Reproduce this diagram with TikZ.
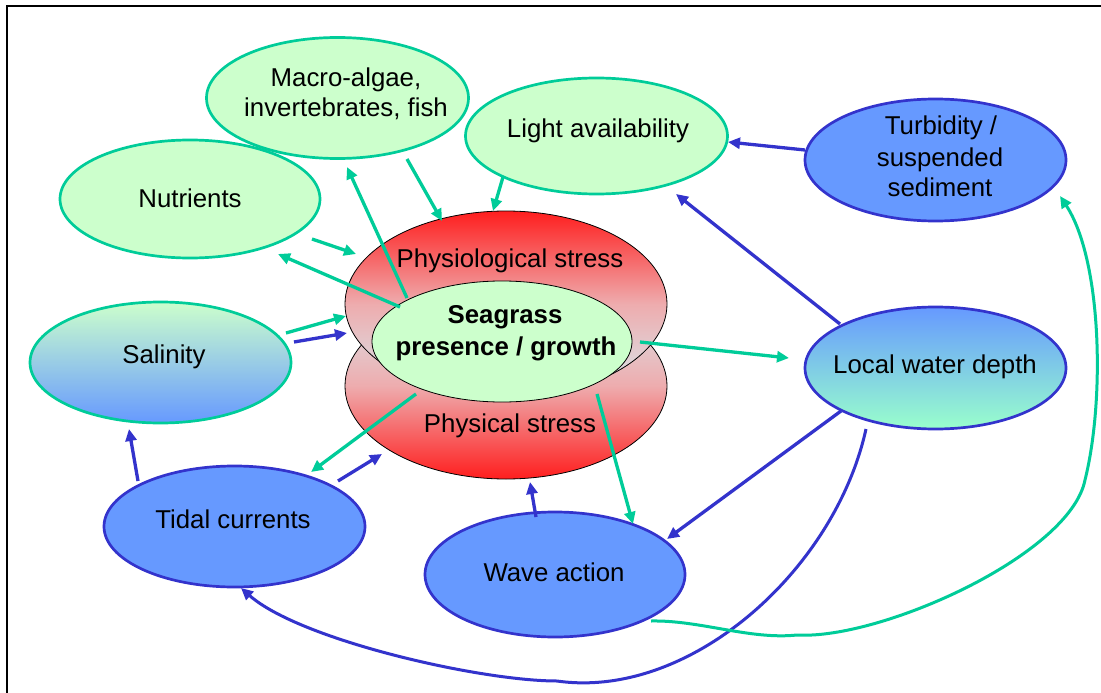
\documentclass[tikz,border=0pt]{standalone}
\usepackage{fontspec}
\setmainfont{Liberation Sans}
\usetikzlibrary{shapes.geometric,arrows.meta}

\definecolor{leafgreen}{HTML}{00CC99}
\definecolor{deepblue}{HTML}{3333CC}
\definecolor{palegreen}{HTML}{CCFFCC}
\definecolor{seablue}{HTML}{6699FF}
\definecolor{aqua}{HTML}{99FFCC}
\definecolor{hotred}{RGB}{255,30,30}
\definecolor{pinkmid}{RGB}{238,172,174}
\definecolor{mist}{RGB}{214,234,240}

\tikzset{
  oval/.style={ellipse, inner sep=0pt, line width=2.7pt},
  greenoval/.style={oval, draw=leafgreen, fill=palegreen},
  blueoval/.style={oval, draw=deepblue, fill=seablue},
  stressoval/.style={ellipse, inner sep=0pt, draw=black, line width=0.8pt,
    minimum width=322pt, minimum height=186pt},
  lbl/.style={anchor=base, inner sep=0pt, font=\fontsize{25.8pt}{31pt}\selectfont},
  boldlbl/.style={lbl, font=\fontsize{25.8pt}{31pt}\selectfont\bfseries},
  tip/.style={-{Triangle[length=12pt,width=11pt]}},
  garrow/.style={draw=leafgreen, line width=3.3pt, tip},
  barrow/.style={draw=deepblue, line width=3.3pt, tip},
}

\begin{document}
\begin{tikzpicture}[x=1pt,y=-1pt]
\useasboundingbox (0,0) rectangle (1101,693);
\fill[white] (0,0) rectangle (1101,693);
\draw[line width=2pt] (7,693) -- (7,6) -- (1101,6);

% outer factors
\node[greenoval, minimum width=262pt, minimum height=121pt] (macro) at (337.5,98) {};
\node[greenoval, minimum width=262pt, minimum height=116pt] (light) at (596.5,136) {};
\node[greenoval, minimum width=260pt, minimum height=118pt] (nutr) at (190,199) {};
\node[blueoval, minimum width=261pt, minimum height=122pt] (turb) at (935.5,160) {};
\node[oval, draw=leafgreen, top color=palegreen, bottom color=seablue,
      minimum width=261pt, minimum height=121pt] (salin) at (160.5,362.5) {};
\node[oval, draw=deepblue, top color=seablue, bottom color=aqua,
      minimum width=261pt, minimum height=122pt] (depth) at (935.5,368) {};
\node[blueoval, minimum width=261pt, minimum height=121pt] (tidal) at (234.5,526.5) {};
\node[blueoval, minimum width=260pt, minimum height=125pt] (wave) at (555,574.5) {};

% central stress ellipses and seagrass
\node[stressoval, top color=mist, bottom color=hotred, middle color=pinkmid] (physical) at (506,386) {};
\node[stressoval, top color=hotred, bottom color=mist, middle color=pinkmid] (physio) at (506,304) {};
\node[oval, draw=black, line width=0.8pt, fill=palegreen,
      minimum width=260pt, minimum height=121pt] (seagrass) at (502,341.5) {};

% labels
\node[lbl] (macro-a) at (346,87) {Macro-algae,};
\node[lbl] (macro-b) at (346,117) {invertebrates, fish};
\node[lbl] (light-a) at (598,137) {Light availability};
\node[lbl] (nutr-a) at (190,207) {Nutrients};
\node[lbl] (turb-a) at (941,135) {Turbidity /};
\node[lbl] (turb-b) at (940,166) {suspended};
\node[lbl] (turb-c) at (940,196) {sediment};
\node[lbl] (physio-a) at (510,267) {Physiological stress};
\node[boldlbl] (seagrass-a) at (505,323) {Seagrass};
\node[boldlbl] (seagrass-b) at (506,355) {presence / growth};
\node[lbl] (physical-a) at (510,432) {Physical stress};
\node[lbl] (salin-a) at (164,363) {Salinity};
\node[lbl] (depth-a) at (935,373) {Local water depth};
\node[lbl] (tidal-a) at (233,528) {Tidal currents};
\node[lbl] (wave-a) at (554,581) {Wave action};

% connector ends
\coordinate (nutr-o) at (312,239);     \coordinate (physio-i1) at (356,254);
\coordinate (seagrass-o1) at (400,307); \coordinate (nutr-i) at (278,254);
\coordinate (seagrass-o2) at (407,298); \coordinate (macro-i) at (347,167);
\coordinate (macro-o) at (407,159);    \coordinate (physio-i2) at (442,221);
\coordinate (light-o) at (503,177);    \coordinate (physio-i3) at (493,211);
\coordinate (salin-o1) at (286,333);   \coordinate (physio-i4) at (346,316);
\coordinate (salin-o2) at (294,342);   \coordinate (physio-i5) at (347,333);
\coordinate (seagrass-o3) at (416,394); \coordinate (tidal-i1) at (311,472);
\coordinate (tidal-o1) at (338,481);   \coordinate (physical-i1) at (382,454);
\coordinate (tidal-o2) at (138,481);   \coordinate (salin-i) at (129,429);
\coordinate (seagrass-o4) at (640,342); \coordinate (depth-i) at (789,358);
\coordinate (seagrass-o5) at (597,394); \coordinate (wave-i1) at (633,524);
\coordinate (wave-o1) at (536,517);    \coordinate (physical-i2) at (530,482);
\coordinate (depth-o1) at (841,411);   \coordinate (wave-i2) at (667,539);
\coordinate (depth-o2) at (840,324);   \coordinate (light-i1) at (676,194);
\coordinate (turb-o) at (805,150);     \coordinate (light-i2) at (728,142);
\coordinate (depth-o3) at (866,429);   \coordinate (tidal-i2) at (241,588);
\coordinate (wave-o2) at (651,621);    \coordinate (turb-i) at (1060,196);

% green links
\draw[garrow] (nutr-o) -- (physio-i1);
\draw[garrow] (seagrass-o1) -- (nutr-i);
\draw[garrow] (seagrass-o2) -- (macro-i);
\draw[garrow] (macro-o) -- (physio-i2);
\draw[garrow] (light-o) -- (physio-i3);
\draw[garrow] (salin-o1) -- (physio-i4);
\draw[garrow] (seagrass-o3) -- (tidal-i1);
\draw[garrow] (seagrass-o4) -- (depth-i);
\draw[garrow] (seagrass-o5) -- (wave-i1);

% blue links
\draw[barrow] (salin-o2) -- (physio-i5);
\draw[barrow] (tidal-o1) -- (physical-i1);
\draw[barrow] (tidal-o2) -- (salin-i);
\draw[barrow] (wave-o1) -- (physical-i2);
\draw[barrow] (depth-o1) -- (wave-i2);
\draw[barrow] (depth-o2) -- (light-i1);
\draw[barrow] (turb-o) -- (light-i2);

% long curved links
\draw[barrow, line width=3pt] (depth-o3)
  .. controls (835,570) and (690,700) .. (557,681)
  .. controls (480,681) and (300,640) .. (tidal-i2);
\draw[garrow, line width=3pt] (wave-o2)
  .. controls (700,620) and (750,640) .. (797,635)
  .. controls (880,640) and (1070,555) .. (1085,480)
  .. controls (1105,400) and (1102,260) .. (turb-i);
\end{tikzpicture}
\end{document}
